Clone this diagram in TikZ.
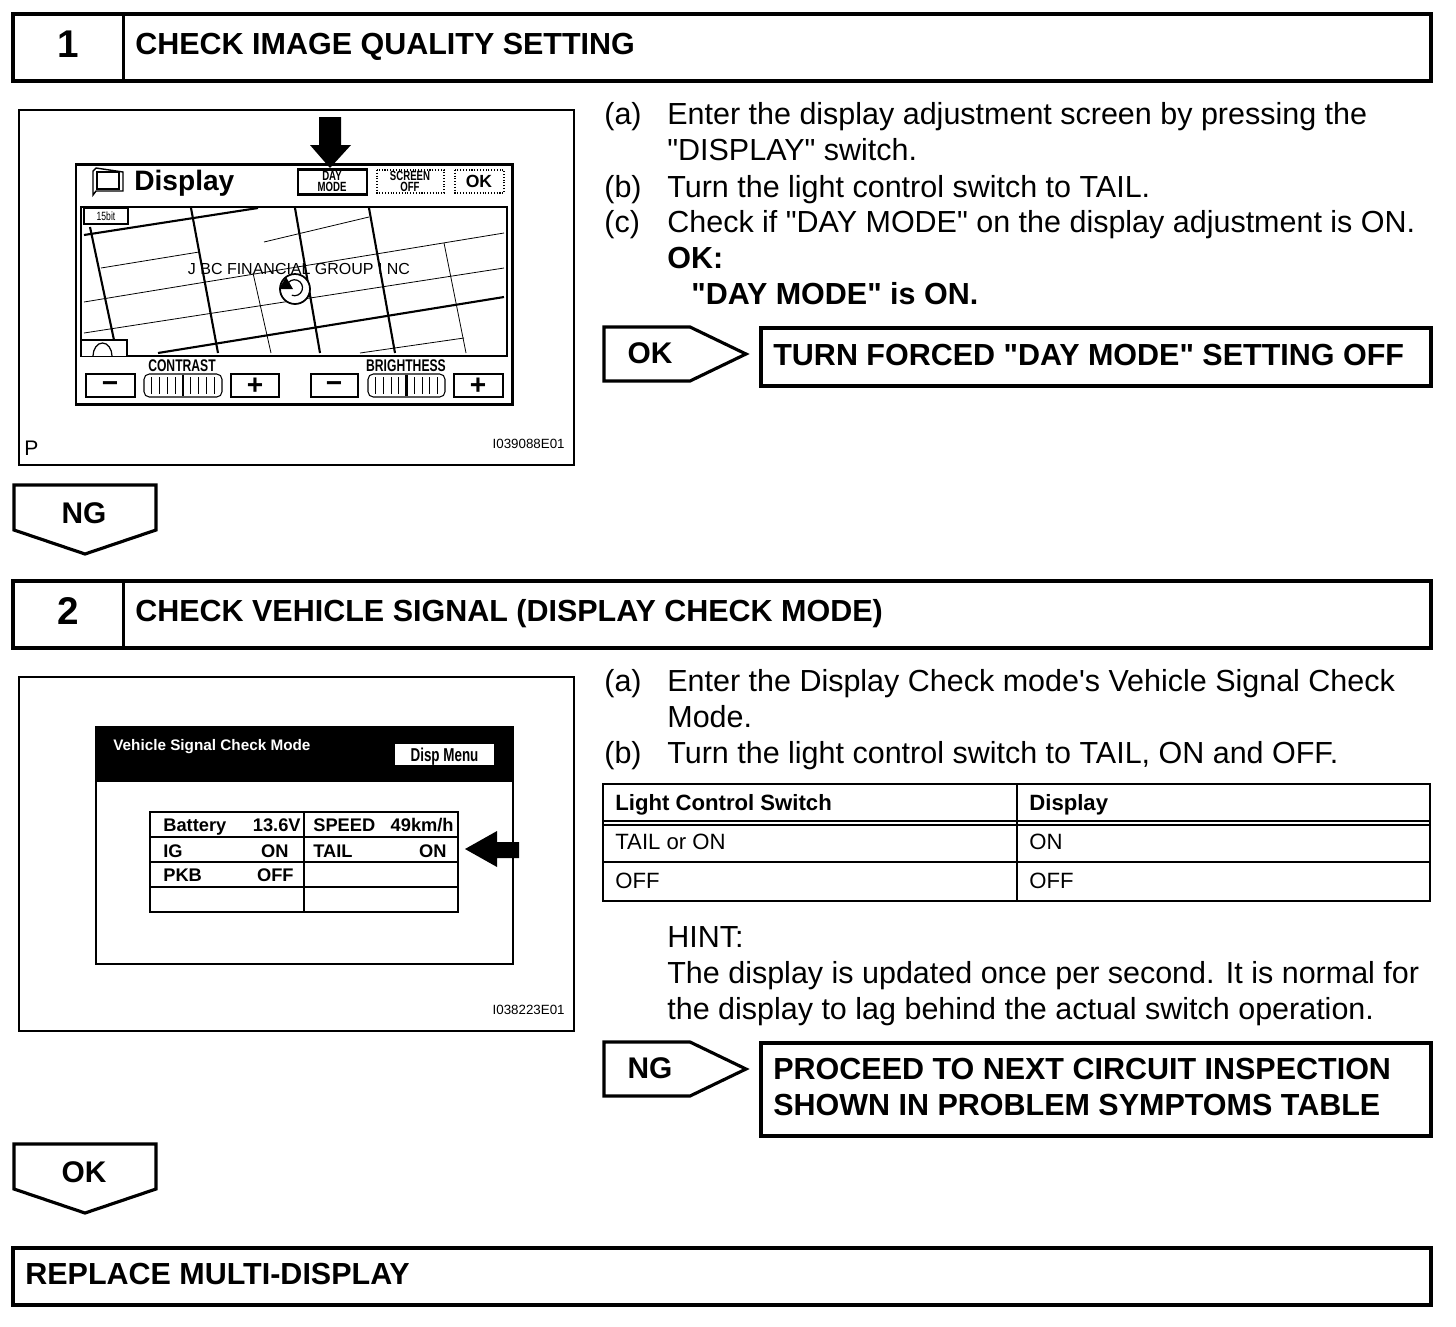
\documentclass[tikz,border=0pt]{standalone}
\usepackage{fontspec}
\setmainfont{Liberation Sans}
\newfontfamily\narrowfont[FakeStretch=0.72]{Liberation Sans}
\usetikzlibrary{arrows.meta,calc,positioning}
\definecolor{inkCol}{HTML}{000000}
\newcommand{\dq}{\textquotedbl}
\tikzset{
  framebox/.style={draw=inkCol, line width=2.1pt},
  imgbox/.style={draw=inkCol, line width=1.2pt},
  screen/.style={draw=inkCol, line width=1.7pt},
  softkey/.style={draw=inkCol, line width=0.6pt, fill=white},
  bodytxt/.style={anchor=base west, inner sep=0pt, font=\fontsize{17.35}{20}\selectfont},
  headtxt/.style={anchor=base west, inner sep=0pt, font=\fontsize{17.35}{20}\selectfont\bfseries},
  tagtxt/.style={inner sep=0pt, font=\fontsize{17}{20}\selectfont\bfseries},
  celltxt/.style={anchor=base west, inner sep=0pt, font=\fontsize{12.6}{15}\selectfont},
  scrtxt/.style={inner sep=0pt, font=\fontsize{10}{11}\selectfont\bfseries},
  scrnum/.style={anchor=base east, inner sep=0pt, font=\fontsize{10.4}{11}\selectfont\bfseries},
  scrlbl/.style={anchor=base west, inner sep=0pt, font=\fontsize{10.4}{11}\selectfont\bfseries},
  keytxt/.style={inner sep=0pt, align=center, font=\narrowfont\fontsize{7.6}{6.6}\selectfont\bfseries},
  figid/.style={anchor=east, inner sep=0pt, font=\fontsize{7.6}{10}\selectfont},
  road/.style={draw=inkCol, line width=0.45pt},
  mainroad/.style={draw=inkCol, line width=1.2pt},
  tagline/.style={draw=inkCol, line width=1.8pt, line join=miter},
  tablerule/.style={draw=inkCol, line width=1.5pt},
  pmsign/.style={inner sep=0pt, font=\fontsize{16}{16}\selectfont\bfseries},
  blackarrow/.style={fill=inkCol, draw=none},
}
% step header: number, title, top and bottom
\newcommand{\stephead}[5]{%
  \draw[framebox] (13,#3) rectangle (1431,#4);
  \draw[framebox] (123.5,#3) -- (123.5,#4);
  \node[tagtxt] (#1num) at (68,{(#3+#4)/2-3.5}) {\fontsize{22}{24}\selectfont #2};
  \node[headtxt] (#1title) at (135,{(#3+#4)/2+7}) {#5};}
% result tag pointing right
\newcommand{\tagright}[3]{%
  \draw[tagline] (604,#3) -- (690,#3) -- (746,#3+27) -- (690,#3+54) -- (604,#3+54) -- cycle;
  \node[tagtxt] (#1) at (650,#3+26) {#2};}
% result tag pointing down
\newcommand{\tagdown}[3]{%
  \draw[tagline] (14,#3) -- (156,#3) -- (156,#3+45) -- (85,#3+69) -- (14,#3+45) -- cycle;
  \node[tagtxt] (#1) at (84,#3+28) {#2};}
\newcommand{\slider}[2]{%
  \draw[softkey, rounded corners=3pt] (#1,374) rectangle (#2,397);
  \foreach \k in {1,...,9}{\draw[road] ({#1+\k*(#2-#1)/10},377) -- ({#1+\k*(#2-#1)/10},394);}
  \draw[inkCol, line width=1.4pt] ({(#1+#2)/2},375) -- ({(#1+#2)/2},396);}

\begin{document}
\begin{tikzpicture}[x=0.02cm,y=-0.02cm]
  \useasboundingbox (0,0) rectangle (1456,1326);

  % step 1
  \stephead{one}{1}{14}{81}{CHECK IMAGE QUALITY SETTING}
  \draw[imgbox] (19,110) rectangle (574,465);
  \draw[screen] (76,164) rectangle (512,404);
  \node[anchor=west, inner sep=0pt, font=\fontsize{16}{20}\selectfont\bfseries] (disp) at (134,183) {Display};
  \draw[road, line width=0.8pt] (93,171) -- (96,168) -- (123,172) -- (123,191) -- (96,191) -- (93,195) -- cycle;
  \draw[road, line width=0.8pt] (97,172) rectangle (119,189);
  \draw[softkey, line width=1.7pt] (298,169) rectangle (367,194);
  \node[keytxt] (daykey) at (332,181.5) {DAY\\MODE};
  \draw[softkey, densely dotted] (377,170) rectangle (444,193);
  \node[keytxt] (offkey) at (410,181.5) {SCREEN\\OFF};
  \draw[softkey, densely dotted] (455,170) rectangle (504,193);
  \node[scrtxt] (okkey) at (479,181.5) {OK};
  \fill[blackarrow] (319,117) -- (341,117) -- (341,145) -- (351,145) -- (330,168) -- (310,145) -- (319,145) -- cycle;

  % map
  \draw[road, line width=0.7pt] (81,207) rectangle (507,356);
  \draw[mainroad] (84,235) -- (258,208);
  \draw[mainroad] (90,227) -- (114,340);
  \draw[mainroad] (191,208) -- (218,353);
  \draw[mainroad] (295,208) -- (320,353);
  \draw[mainroad] (369,208) -- (395,353);
  \draw[mainroad] (158,353) -- (504,297);
  \draw[road] (253,273) -- (271,353);
  \draw[road] (444,243) -- (466,353);
  \draw[road] (264,242) -- (369,217);
  \draw[road] (101,268) -- (199,252);
  \draw[road] (84,302) -- (504,233);
  \draw[road] (84,333) -- (504,268);
  \draw[road] (360,353) -- (464,338);
  \node[inner sep=0pt, font=\fontsize{9.1}{10}\selectfont] (bank) at (299,269) {J BC FINANCIAL GROUP I NC};
  \draw[inkCol, line width=1pt, fill=white] (295,289) circle (15);
  \draw[inkCol, line width=0.7pt] (287,285) arc (200:470:8);
  \fill[inkCol] (286,277) -- (279,289) -- (293,289) -- cycle;
  \draw[softkey] (84,208) rectangle (128,224);
  \node[keytxt, font=\narrowfont\fontsize{6.8}{8}\selectfont] (scale) at (106,216) {15bit};
  \draw[softkey] (81,356) -- (81,340) -- (127,340) -- (127,356);
  \draw[road, line width=0.7pt] (93,356) arc (180:360:9.5 and 13);

  % contrast and brightness
  \node[keytxt, font=\narrowfont\fontsize{9.6}{11}\selectfont\bfseries] (contrast) at (182,366) {CONTRAST};
  \node[keytxt, font=\narrowfont\fontsize{9.6}{11}\selectfont\bfseries] (bright) at (406,366) {BRIGHTHESS};
  \draw[softkey] (86,374) rectangle (135,397);
  \node[pmsign] (cminus) at (110,387) {−};
  \slider{144}{222}
  \draw[softkey] (231,374) rectangle (279,397);
  \node[pmsign] (cplus) at (255,386) {+};
  \draw[softkey] (311,374) rectangle (358,397);
  \node[pmsign] (bminus) at (334,387) {−};
  \slider{368}{445}
  \draw[softkey] (454,374) rectangle (503,397);
  \node[pmsign] (bplus) at (478,386) {+};
  \node[anchor=west, inner sep=0pt, font=\fontsize{12}{12}\selectfont] (pmark) at (24,448) {P};
  \node[figid] (idone) at (565,444) {I039088E01};

  % step 1 text
  \node[bodytxt] (a1) at (604,124) {(a)};
  \node[bodytxt] (a1t) at (667,124) {Enter the display adjustment screen by pressing the};
  \node[bodytxt] (a1u) at (667,160) {\dq DISPLAY\dq\ switch.};
  \node[bodytxt] (b1) at (604,197) {(b)};
  \node[bodytxt] (b1t) at (667,197) {Turn the light control switch to TAIL.};
  \node[bodytxt] (c1) at (604,232) {(c)};
  \node[bodytxt] (c1t) at (667,232) {Check if \dq DAY MODE\dq\ on the display adjustment is ON.};
  \node[headtxt] (okh) at (667,268) {OK:};
  \node[headtxt] (okv) at (691,304) {\dq DAY MODE\dq\ is ON.};
  \tagright{oktag}{OK}{327}
  \draw[framebox] (761,328) rectangle (1431,386);
  \node[headtxt] (forced) at (773,365) {TURN FORCED \dq DAY MODE\dq\ SETTING OFF};
  \tagdown{ngtag}{NG}{485}

  % step 2
  \stephead{two}{2}{581}{648}{CHECK VEHICLE SIGNAL (DISPLAY CHECK MODE)}
  \draw[imgbox] (19,677) rectangle (574,1031);
  \draw[screen, line width=1.4pt] (96,727) rectangle (513,964);
  \fill[inkCol] (96,727) rectangle (513,782);
  \node[anchor=west, inner sep=0pt, text=white, font=\fontsize{8.7}{11}\selectfont\bfseries] (vsc) at (113,747) {Vehicle Signal Check Mode};
  \fill[white] (395,744) rectangle (494,765);
  \node[keytxt, font=\narrowfont\fontsize{10.6}{11}\selectfont\bfseries] (menu) at (444.5,757) {Disp Menu};
  \draw[screen, line width=1.4pt] (150,812) rectangle (458,912);
  \foreach \r in {837,862,887}{\draw[inkCol, line width=1.2pt] (150,\r) -- (458,\r);}
  \draw[inkCol, line width=1.2pt] (304,812) -- (304,912);
  \node[scrlbl] (bat) at (163,831) {Battery};
  \node[scrnum] (batv) at (301,831) {13.6V};
  \node[scrlbl] (spd) at (313,831) {SPEED};
  \node[scrnum] (spdv) at (454,831) {49km/h};
  \node[scrlbl] (ig) at (163,857) {IG};
  \node[scrnum] (igv) at (289,857) {ON};
  \node[scrlbl] (tail) at (313,857) {TAIL};
  \node[scrnum] (tailv) at (447,857) {ON};
  \node[scrlbl] (pkb) at (163,881) {PKB};
  \node[scrnum] (pkbv) at (294,881) {OFF};
  \fill[blackarrow] (465,849) -- (497,831) -- (497,842) -- (519,842) -- (519,858) -- (497,858) -- (497,867) -- cycle;
  \node[figid] (idtwo) at (565,1010) {I038223E01};

  % step 2 text
  \node[bodytxt] (a2) at (604,691) {(a)};
  \node[bodytxt] (a2t) at (667,691) {Enter the Display Check mode\textquotesingle s Vehicle Signal Check};
  \node[bodytxt] (a2u) at (667,727) {Mode.};
  \node[bodytxt] (b2) at (604,763) {(b)};
  \node[bodytxt] (b2t) at (667,763) {Turn the light control switch to TAIL, ON and OFF.};

  % table
  \draw[tablerule] (603,784) rectangle (1430,901);
  \draw[tablerule] (1017,784) -- (1017,901);
  \draw[tablerule] (603,821) -- (1430,821);
  \draw[tablerule] (603,825) -- (1430,825);
  \draw[tablerule] (603,862) -- (1430,862);
  \node[celltxt, font=\fontsize{12.6}{15}\selectfont\bfseries] (th1) at (615,810) {Light Control Switch};
  \node[celltxt, font=\fontsize{12.6}{15}\selectfont\bfseries] (th2) at (1029,810) {Display};
  \node[celltxt] (td1) at (615,849) {TAIL or ON};
  \node[celltxt] (td2) at (1029,849) {ON};
  \node[celltxt] (td3) at (615,888) {OFF};
  \node[celltxt] (td4) at (1029,888) {OFF};

  \node[bodytxt] (hint) at (667,947) {HINT:};
  \node[bodytxt] (hinta) at (667,983) {The display is updated once per second. It is normal for};
  \node[bodytxt] (hintb) at (667,1019) {the display to lag behind the actual switch operation.};
  \tagright{ngtagb}{NG}{1042}
  \draw[framebox] (761,1043) rectangle (1431,1136);
  \node[headtxt] (nexta) at (773,1079) {PROCEED TO NEXT CIRCUIT INSPECTION};
  \node[headtxt] (nextb) at (773,1115) {SHOWN IN PROBLEM SYMPTOMS TABLE};
  \tagdown{oktagb}{OK}{1144}

  % last step
  \draw[framebox] (13,1248) rectangle (1431,1305);
  \node[headtxt] (replace) at (25,1284) {REPLACE MULTI-DISPLAY};
\end{tikzpicture}
\end{document}
